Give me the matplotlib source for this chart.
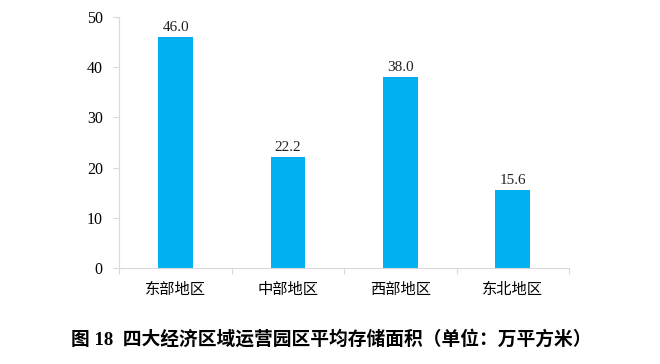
import matplotlib
matplotlib.use("Agg")
import matplotlib.pyplot as plt

regions = ["东部地区", "中部地区", "西部地区", "东北地区"]
areas = [46.0, 22.2, 38.0, 15.6]
yticks = [0, 10, 20, 30, 40, 50]
title = "图 18  四大经济区域运营园区平均存储面积（单位：万平方米）"

fonts = ["Liberation Serif", "Noto Sans CJK SC"]
plt.rcParams["font.family"] = fonts

fig = plt.figure(figsize=(6.6, 3.64), dpi=100)
ax = fig.add_axes([0.181, 0.264, 0.681, 0.689])

x = list(range(len(regions)))
bars = ax.bar(x, areas, width=0.31, color="#00B0F0")

for xi, v in zip(x, areas):
    ax.text(xi, v + 0.6, f"{v:.1f}", ha="center", va="bottom", fontsize=11, color="#222222")

ax.set_xlim(-0.5, len(regions) - 0.5)
ax.set_ylim(0, 50)
ax.set_yticks(yticks)
ax.set_yticklabels([str(t) for t in yticks], fontsize=11.5)
ax.set_xticks([i + 0.5 for i in range(-1, len(regions))], minor=False)
ax.set_xticklabels([])
ax.set_xticks(x, minor=True)
ax.set_xticklabels(regions, minor=True, fontsize=11)
ax.tick_params(axis="x", which="minor", length=0, pad=11)
ax.tick_params(axis="x", which="major", length=4, color="#D9D9D9")
ax.tick_params(axis="y", length=4, color="#D9D9D9", pad=8)

for s in ["top", "right"]:
    ax.spines[s].set_visible(False)
for s in ["left", "bottom"]:
    ax.spines[s].set_color("#D9D9D9")

fig.text(0.502, 0.068, title, ha="center", va="center", fontsize=13.5, fontweight="bold")

fig.savefig("out.png", dpi=100)
